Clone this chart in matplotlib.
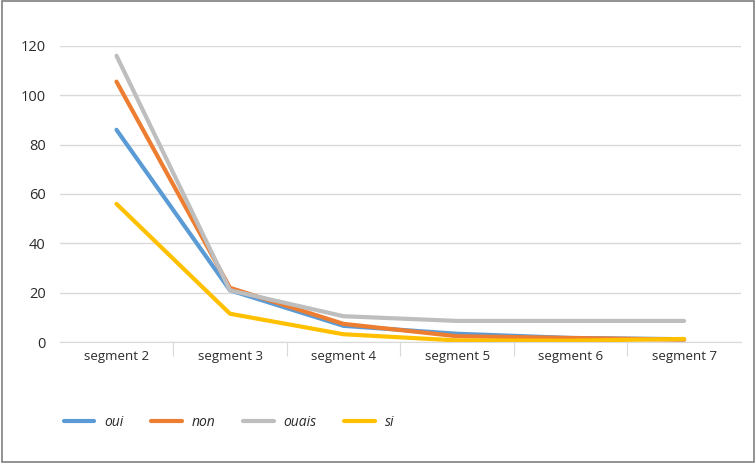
import matplotlib.pyplot as plt
from matplotlib.patches import Rectangle

categories = ["segment 2", "segment 3", "segment 4", "segment 5", "segment 6", "segment 7"]
oui = [86, 21, 6.6, 3.4, 1.7, 1.2]
non = [105.5, 22, 7.4, 2.4, 1.7, 1.0]
ouais = [116, 21, 10.5, 8.6, 8.6, 8.6]
si = [56, 11.5, 3.2, 0.7, 0.6, 1.3]
series = [("oui", oui, "#5B9BD5"), ("non", non, "#ED7D31"),
          ("ouais", ouais, "#BEBEBE"), ("si", si, "#FFC000")]

plt.rcParams['font.family'] = ['Open Sans', 'DejaVu Sans']
txt = "#2B2B2B"

fig = plt.figure(figsize=(7.56, 4.63), dpi=100)
ax = fig.add_axes([0.079, 0.261, 0.901, 0.640])

x = list(range(len(categories)))
for name, vals, col in series:
    ax.plot(x, vals, color=col, lw=3, solid_capstyle='round', solid_joinstyle='round', label=name)

ax.set_xlim(-0.5, len(categories) - 0.5)
ax.set_ylim(0, 120)
ax.set_yticks(range(0, 121, 20))
ax.grid(axis='y', color="#D9D9D9", lw=1)
ax.set_axisbelow(True)
for s in ["top", "right", "left"]:
    ax.spines[s].set_visible(False)
ax.spines["bottom"].set_color("#D9D9D9")
ax.tick_params(axis='y', length=0, pad=10, labelsize=10.5, labelcolor=txt)
ax.set_xticks([i - 0.5 for i in range(1, len(categories))], minor=False)
ax.set_xticklabels([])
ax.tick_params(axis='x', which='major', length=10, color="#D9D9D9")
ax.set_xticks(x, minor=True)
ax.set_xticklabels(categories, minor=True, fontsize=9.5, color=txt)
ax.tick_params(axis='x', which='minor', length=0, pad=6)

leg = fig.legend(loc='lower left', bbox_to_anchor=(0.068, 0.045), ncol=4, frameon=False,
                 prop={'style': 'italic', 'size': 10}, handlelength=2.2, columnspacing=2.0,
                 handletextpad=0.7)
for t in leg.get_texts():
    t.set_color(txt)

fig.patches.append(Rectangle((0.002, 0.002), 0.996, 0.996, transform=fig.transFigure,
                             fill=False, edgecolor="#7F7F7F", lw=1.2))

fig.savefig("out.png", dpi=100)
